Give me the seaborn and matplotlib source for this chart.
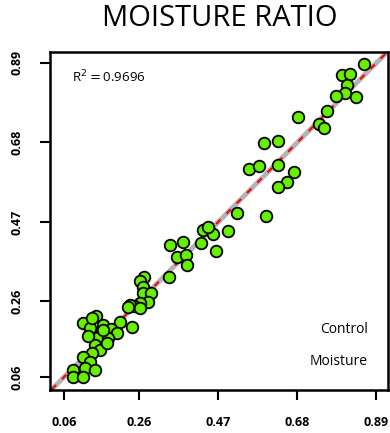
import numpy as np
import pandas as pd
import matplotlib
matplotlib.use("Agg")
import matplotlib.pyplot as plt
import seaborn as sns

# observed vs predicted moisture ratio
observed = [0.856, 0.800, 0.819, 0.813, 0.808, 0.784, 0.837, 0.760, 0.683, 0.739,
            0.752, 0.591, 0.628, 0.553, 0.577, 0.630, 0.670, 0.652, 0.628, 0.519,
            0.596, 0.495, 0.429, 0.455, 0.442, 0.423, 0.463, 0.341, 0.376, 0.360,
            0.384, 0.386, 0.339, 0.272, 0.262, 0.270, 0.270, 0.291, 0.283, 0.262,
            0.246, 0.235, 0.262, 0.240, 0.209, 0.145, 0.110, 0.163, 0.185, 0.129,
            0.155, 0.148, 0.201, 0.177, 0.142, 0.155, 0.134, 0.110, 0.129, 0.116,
            0.142, 0.084, 0.084, 0.110, 0.124, 0.163, 0.230, 0.175, 0.135]
predicted = [0.888, 0.859, 0.862, 0.832, 0.811, 0.803, 0.801, 0.764, 0.748, 0.729,
             0.719, 0.679, 0.684, 0.610, 0.618, 0.621, 0.602, 0.576, 0.563, 0.494,
             0.486, 0.446, 0.449, 0.438, 0.457, 0.414, 0.393, 0.409, 0.417, 0.377,
             0.383, 0.356, 0.325, 0.325, 0.314, 0.298, 0.282, 0.282, 0.258, 0.256,
             0.248, 0.250, 0.243, 0.192, 0.206, 0.221, 0.203, 0.198, 0.187, 0.190,
             0.171, 0.163, 0.176, 0.163, 0.145, 0.131, 0.123, 0.113, 0.100, 0.084,
             0.079, 0.079, 0.060, 0.060, 0.168, 0.184, 0.245, 0.150, 0.215]
ticks = [0.06, 0.26, 0.47, 0.68, 0.89]
tick_labels = ["0.06", "0.26", "0.47", "0.68", "0.89"]
r2 = 0.9696
line_vals = [0.0, 1.0]

df = pd.DataFrame({"observed": observed, "predicted": predicted})

sns.set_style("white")
plt.rcParams["font.family"] = ["Open Sans", "DejaVu Sans"]
plt.rcParams["text.color"] = "black"
plt.rcParams["xtick.color"] = "black"
plt.rcParams["ytick.color"] = "black"

fig = plt.figure(figsize=(3.90, 4.33), dpi=100)
ax = fig.add_axes([50 / 390, 1 - 390 / 433, 338 / 390, 338 / 433])

# 1:1 line (grey) with red dashed fit on top
ax.plot(line_vals, line_vals, color="#b4b4b4", lw=3.5, zorder=1)
ax.plot(line_vals, line_vals, color="red", lw=1.5, ls=(0, (3, 4)), zorder=2)

sns.scatterplot(data=df, x="observed", y="predicted", ax=ax, s=70,
                color="#66f000", edgecolor="black", linewidth=1.3, zorder=3)

ax.set_xlim(0.023, 0.921)
ax.set_ylim(0.026, 0.919)
ax.set_xticks(ticks)
ax.set_xticklabels(tick_labels)
ax.set_yticks(ticks)
ax.set_yticklabels(tick_labels, rotation=90, va="center")
ax.tick_params(axis="both", direction="out", length=7, width=1.5, pad=12,
               labelsize=9, bottom=True, left=True)
for lab in ax.get_xticklabels() + ax.get_yticklabels():
    lab.set_fontweight("bold")
ax.set_xlabel("")
ax.set_ylabel("")
for sp in ax.spines.values():
    sp.set_linewidth(1.8)
    sp.set_color("black")

ax.text(0.065, 0.95, r"R$^2$$=$" + f"{r2:.4f}", transform=ax.transAxes,
        fontsize=9.5, va="top", ha="left")
ax.text(0.94, 0.18, "Control", transform=ax.transAxes, fontsize=10,
        ha="right", va="center")
ax.text(0.94, 0.085, "Moisture", transform=ax.transAxes, fontsize=10,
        ha="right", va="center")

fig.text(220 / 390, 1 - 19 / 433, "MOISTURE RATIO", fontsize=21,
         ha="center", va="center")

fig.savefig("out.png", dpi=100)
